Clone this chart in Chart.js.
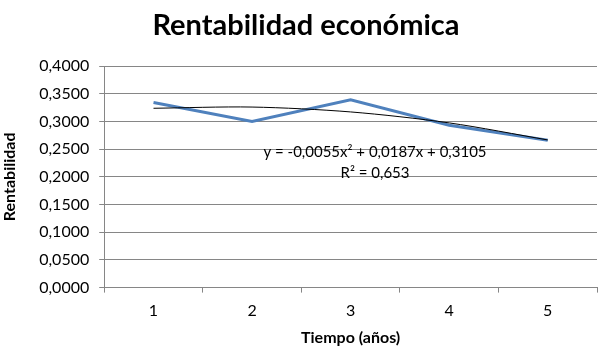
<!DOCTYPE html>
<html><head><meta charset="utf-8">
<script src="https://cdn.jsdelivr.net/npm/chart.js@4"></script>
<style>html,body{margin:0;padding:0;background:#fff}#wrap{width:610px;height:357px}</style>
</head><body><div id="wrap"><canvas id="c" width="610" height="357"></canvas></div>
<script>
const categories = ['1','2','3','4','5'];
const rentabilidad = [0.334, 0.300, 0.339, 0.293, 0.266];
const tendencia = [0.3237, 0.3259, 0.3171, 0.2973, 0.2665];
const titulo = 'Rentabilidad económica';
const ecuacion = 'y = -0,0055x\u00B2 + 0,0187x + 0,3105';
const r2 = 'R\u00B2 = 0,653';
const yTicks = {min: 0, max: 0.4, step: 0.05};

const textPlugin = {
  id: 'texts',
  afterDatasetsDraw(chart) {
    const ctx = chart.ctx;
    ctx.save();
    ctx.fillStyle = '#000';
    ctx.textAlign = 'center';
    ctx.textBaseline = 'alphabetic';
    ctx.font = 'bold 29px Lato';
    ctx.fillText(titulo, 306, 35);
    ctx.font = '15px Lato';
    ctx.textBaseline = 'middle';
    ctx.fillText(ecuacion, 375, 152);
    ctx.fillText(r2, 375, 173);
    ctx.restore();
  }
};

new Chart(document.getElementById('c'), {
  type: 'line',
  data: {
    labels: categories,
    datasets: [
      {data: rentabilidad, borderColor: '#4F81BD', borderWidth: 3, pointRadius: 0, tension: 0, order: 2},
      {data: tendencia, borderColor: '#000', borderWidth: 1, pointRadius: 0, tension: 0.3, order: 1}
    ]
  },
  options: {
    responsive: false,
    animation: false,
    layout: {padding: {left: 0, right: 13, top: 66, bottom: 6}},
    plugins: {
      legend: {display: false},
      tooltip: {enabled: false},
      title: {display: false}
    },
    scales: {
      x: {
        offset: true,
        grid: {offset: true, drawOnChartArea: false, drawTicks: true, tickLength: 5, color: '#868686'},
        border: {color: '#868686'},
        ticks: {color: '#000', font: {family: 'Lato', size: 16}, padding: 9},
        title: {display: true, text: 'Tiempo (años)', font: {family: 'Lato', size: 16, weight: 'bold'}, color: '#000', padding: {top: -2, bottom: 4}}
      },
      y: {
        min: yTicks.min, max: yTicks.max,
        grid: {color: '#868686', tickLength: 5},
        border: {color: '#868686'},
        ticks: {stepSize: yTicks.step, color: '#000', font: {family: 'Lato', size: 16}, padding: 10,
          callback: v => v.toFixed(4).replace('.', ',')},
        title: {display: true, text: 'Rentabilidad', font: {family: 'Lato', size: 16, weight: 'bold'}, color: '#000', padding: {top: 0, bottom: 10}}
      }
    }
  },
  plugins: [textPlugin]
});
</script></body></html>
